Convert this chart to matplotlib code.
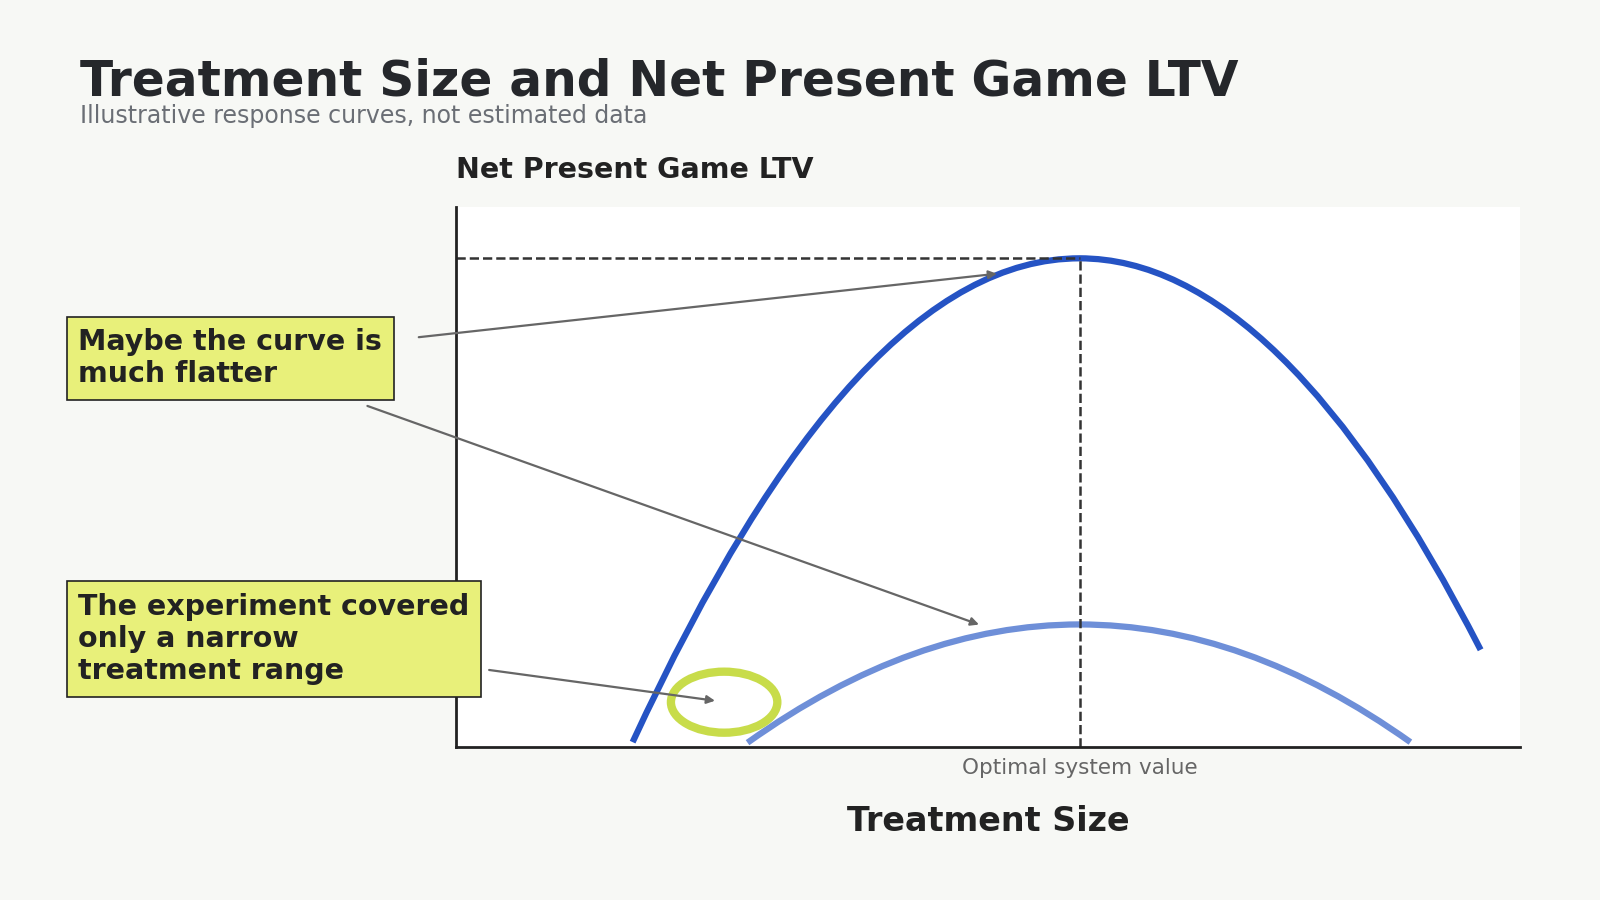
import matplotlib.pyplot as plt
from matplotlib.patches import Ellipse, PathPatch
from matplotlib.path import Path

# key points (x: treatment size, y: LTV, both 0-10)
# each curve: left end, peak, right end (parabolic response curves)
steep_pts = [(1.66, 0.09), (5.86, 9.05), (9.63, 1.80)]
flat_pts = [(2.74, 0.08), (5.86, 2.27), (8.97, 0.09)]
opt_x, opt_y = 5.86, 9.05
circle_xy = (2.52, 0.83)

BG = '#f7f8f5'


def parabola_path(pts):
    # two quadratic Bezier halves meeting at the peak with a flat tangent
    (x0, y0), (xp, yp), (x1, y1) = pts
    verts = [(x0, y0), ((x0 + xp) / 2, yp), (xp, yp),
             (xp + (xp - x0) / 2, yp), (x1, y1 + (yp - y1) * 0)]
    # control point for right half lies on the peak tangent; ratio keeps it a parabola
    verts[3] = (xp + (x1 - xp) / 2, yp)
    codes = [Path.MOVETO, Path.CURVE3, Path.CURVE3, Path.CURVE3, Path.CURVE3]
    return Path(verts, codes)


fig = plt.figure(figsize=(16, 9), dpi=100, facecolor=BG)
ax = fig.add_axes([0.285, 0.170, 0.665, 0.600])
ax.set_xlim(0, 10)
ax.set_ylim(0, 10)
ax.set_xticks([])
ax.set_yticks([])
for s in ['top', 'right']:
    ax.spines[s].set_visible(False)
for s in ['left', 'bottom']:
    ax.spines[s].set_linewidth(2)
    ax.spines[s].set_color('#222222')

ax.add_patch(PathPatch(parabola_path(steep_pts), fill=False, ec='#2553c4', lw=4.5, capstyle='butt'))
ax.add_patch(PathPatch(parabola_path(flat_pts), fill=False, ec='#6e8fd8', lw=4.5, capstyle='butt'))
ax.plot([0, opt_x], [opt_y, opt_y], ls='--', color='#333333', lw=1.8)
ax.plot([opt_x, opt_x], [0, opt_y], ls='--', color='#333333', lw=1.8)
ax.text(opt_x, -0.2, 'Optimal system value', ha='center', va='top', fontsize=15.5, color='#666666')

ax.add_patch(Ellipse(circle_xy, 1.0, 1.13, fill=False, ec='#c8dc4a', lw=6))

ax.set_xlabel('Treatment Size', fontsize=24, fontweight='bold', color='#222222', labelpad=42)
fig.text(0.285, 0.795, 'Net Present Game LTV', fontsize=20.5, fontweight='bold', color='#222222', va='bottom')

fig.text(0.050, 0.909, 'Treatment Size and Net Present Game LTV', fontsize=35, fontweight='bold',
         color='#25272b', va='center')
fig.text(0.050, 0.871, 'Illustrative response curves, not estimated data', fontsize=17,
         color='#6a6e75', va='center')

box = dict(boxstyle='square,pad=0.4', fc='#e8f07a', ec='#222222', lw=1.2)
arrow = dict(arrowstyle='-|>', color='#666666', lw=1.6, mutation_scale=12)
fig.text(0.049, 0.602, 'Maybe the curve is\nmuch flatter', fontsize=20.5, fontweight='bold',
         color='#222222', va='center', ha='left', bbox=box, linespacing=1.2)
fig.text(0.049, 0.290, 'The experiment covered\nonly a narrow\ntreatment range', fontsize=20.5,
         fontweight='bold', color='#222222', va='center', ha='left', bbox=box, linespacing=1.2)

ax.annotate('', xy=(5.11, 8.77), xycoords='data', xytext=(0.260, 0.625), textcoords='figure fraction', arrowprops=arrow)
ax.annotate('', xy=(4.94, 2.25), xycoords='data', xytext=(0.228, 0.550), textcoords='figure fraction', arrowprops=arrow)
ax.annotate('', xy=(2.46, 0.85), xycoords='data', xytext=(0.304, 0.256), textcoords='figure fraction', arrowprops=arrow)

fig.savefig('out.png', dpi=100, facecolor=BG)
